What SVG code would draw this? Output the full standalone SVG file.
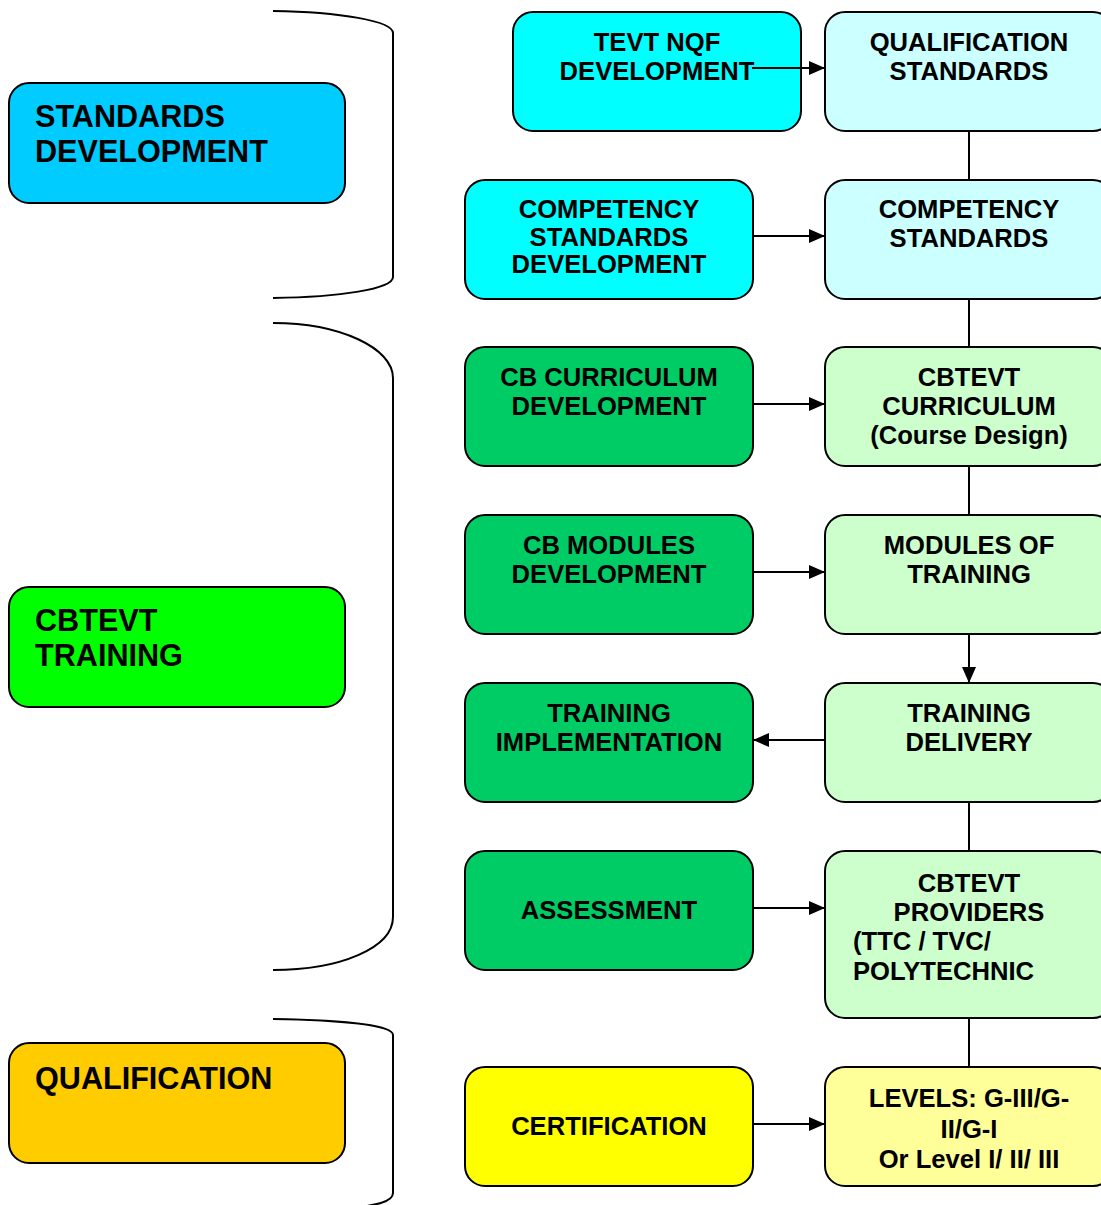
<svg xmlns="http://www.w3.org/2000/svg" width="1101" height="1205" viewBox="0 0 1101 1205">
<style>
.b{stroke:#000;stroke-width:2}
.t{font-family:"Liberation Sans",Arial,sans-serif;font-weight:bold;font-size:25.6px;fill:#000;text-anchor:middle}
.l{font-family:"Liberation Sans",Arial,sans-serif;font-weight:bold;font-size:30.6px;fill:#000}
.c{stroke:#000;stroke-width:2;fill:none}
</style>
<defs>
<marker id="ah" markerWidth="16" markerHeight="14" refX="16" refY="7" orient="auto" markerUnits="userSpaceOnUse">
<path d="M0,0 L16,7 L0,14 Z" fill="#000"/>
</marker>
</defs>
<rect width="1101" height="1205" fill="#fff"/>
<g id="braces" class="c">
<path d="M273,11 C340,12 393,21 393,33 L393,277 C393,289 340,297 273,298"/>
<path d="M273,323 C340,323 393,348 393,378 L393,917 C393,948 340,970 273,970"/>
<path d="M273,1019 C340,1020 393,1025 393,1035 L393,1193 C393,1202 375,1205 355,1208"/>
</g>
<g id="connectors">
<line class="c" x1="969" y1="131" x2="969" y2="180"/>
<line class="c" x1="969" y1="299" x2="969" y2="347"/>
<line class="c" x1="969" y1="466" x2="969" y2="515"/>
<line class="c" x1="969" y1="634" x2="969" y2="683" marker-end="url(#ah)"/>
<line class="c" x1="969" y1="802" x2="969" y2="851"/>
<line class="c" x1="969" y1="1018" x2="969" y2="1067"/>
<line class="c" x1="825" y1="740" x2="753" y2="740" marker-end="url(#ah)"/>
</g>
<g id="n-std"><rect class="b" x="9" y="83" width="336" height="120" rx="20" fill="#00CCFF"/><text class="l" x="35" y="127">STANDARDS</text><text class="l" x="35" y="162">DEVELOPMENT</text></g>
<g id="n-cbt"><rect class="b" x="9" y="587" width="336" height="120" rx="20" fill="#00FF00"/><text class="l" x="35" y="631">CBTEVT</text><text class="l" x="35" y="666">TRAINING</text></g>
<g id="n-qual"><rect class="b" x="9" y="1043" width="336" height="120" rx="20" fill="#FFCC00"/><text class="l" x="35" y="1089">QUALIFICATION</text></g>
<g id="n-nqf"><rect class="b" x="513" y="12" width="288" height="119" rx="20" fill="#00FFFF"/><text class="t" x="657" y="51">TEVT NQF</text><text class="t" x="657" y="80">DEVELOPMENT</text></g>
<g id="n-qs"><rect class="b" x="825" y="12" width="288" height="119" rx="20" fill="#CCFFFF"/><text class="t" x="969" y="51">QUALIFICATION</text><text class="t" x="969" y="80">STANDARDS</text></g>
<g id="n-csd"><rect class="b" x="465" y="180" width="288" height="119" rx="20" fill="#00FFFF"/><text class="t" x="609" y="218">COMPETENCY</text><text class="t" x="609" y="246">STANDARDS</text><text class="t" x="609" y="273">DEVELOPMENT</text></g>
<g id="n-cs"><rect class="b" x="825" y="180" width="288" height="119" rx="20" fill="#CCFFFF"/><text class="t" x="969" y="218">COMPETENCY</text><text class="t" x="969" y="247">STANDARDS</text></g>
<g id="n-cbc"><rect class="b" x="465" y="347" width="288" height="119" rx="20" fill="#00CC66"/><text class="t" x="609" y="386">CB CURRICULUM</text><text class="t" x="609" y="415">DEVELOPMENT</text></g>
<g id="n-cur"><rect class="b" x="825" y="347" width="288" height="119" rx="20" fill="#CCFFCC"/><text class="t" x="969" y="386">CBTEVT</text><text class="t" x="969" y="415">CURRICULUM</text><text class="t" x="969" y="444">(Course Design)</text></g>
<g id="n-cbm"><rect class="b" x="465" y="515" width="288" height="119" rx="20" fill="#00CC66"/><text class="t" x="609" y="554">CB MODULES</text><text class="t" x="609" y="583">DEVELOPMENT</text></g>
<g id="n-mod"><rect class="b" x="825" y="515" width="288" height="119" rx="20" fill="#CCFFCC"/><text class="t" x="969" y="554">MODULES OF</text><text class="t" x="969" y="583">TRAINING</text></g>
<g id="n-ti"><rect class="b" x="465" y="683" width="288" height="119" rx="20" fill="#00CC66"/><text class="t" x="609" y="722">TRAINING</text><text class="t" x="609" y="751">IMPLEMENTATION</text></g>
<g id="n-td"><rect class="b" x="825" y="683" width="288" height="119" rx="20" fill="#CCFFCC"/><text class="t" x="969" y="722">TRAINING</text><text class="t" x="969" y="751">DELIVERY</text></g>
<g id="n-as"><rect class="b" x="465" y="851" width="288" height="119" rx="20" fill="#00CC66"/><text class="t" x="609" y="919">ASSESSMENT</text></g>
<g id="n-pr"><rect class="b" x="825" y="851" width="288" height="167" rx="20" fill="#CCFFCC"/><text class="t" x="969" y="892">CBTEVT</text><text class="t" x="969" y="921">PROVIDERS</text><text class="t" x="853" y="950" style="text-anchor:start">(TTC / TVC/</text><text class="t" x="853" y="980" style="text-anchor:start">POLYTECHNIC</text></g>
<g id="n-cert"><rect class="b" x="465" y="1067" width="288" height="119" rx="20" fill="#FFFF00"/><text class="t" x="609" y="1135">CERTIFICATION</text></g>
<g id="n-lev"><rect class="b" x="825" y="1067" width="288" height="119" rx="20" fill="#FFFF99"/><text class="t" x="969" y="1107">LEVELS: G-III/G-</text><text class="t" x="969" y="1138">II/G-I</text><text class="t" x="969" y="1168">Or Level I/ II/ III</text></g>
<g id="arrows">
<line class="c" x1="752" y1="68" x2="825" y2="68" marker-end="url(#ah)"/>
<line class="c" x1="753" y1="236" x2="825" y2="236" marker-end="url(#ah)"/>
<line class="c" x1="753" y1="404" x2="825" y2="404" marker-end="url(#ah)"/>
<line class="c" x1="753" y1="572" x2="825" y2="572" marker-end="url(#ah)"/>
<line class="c" x1="753" y1="908" x2="825" y2="908" marker-end="url(#ah)"/>
<line class="c" x1="753" y1="1124" x2="825" y2="1124" marker-end="url(#ah)"/>
</g>
</svg>
